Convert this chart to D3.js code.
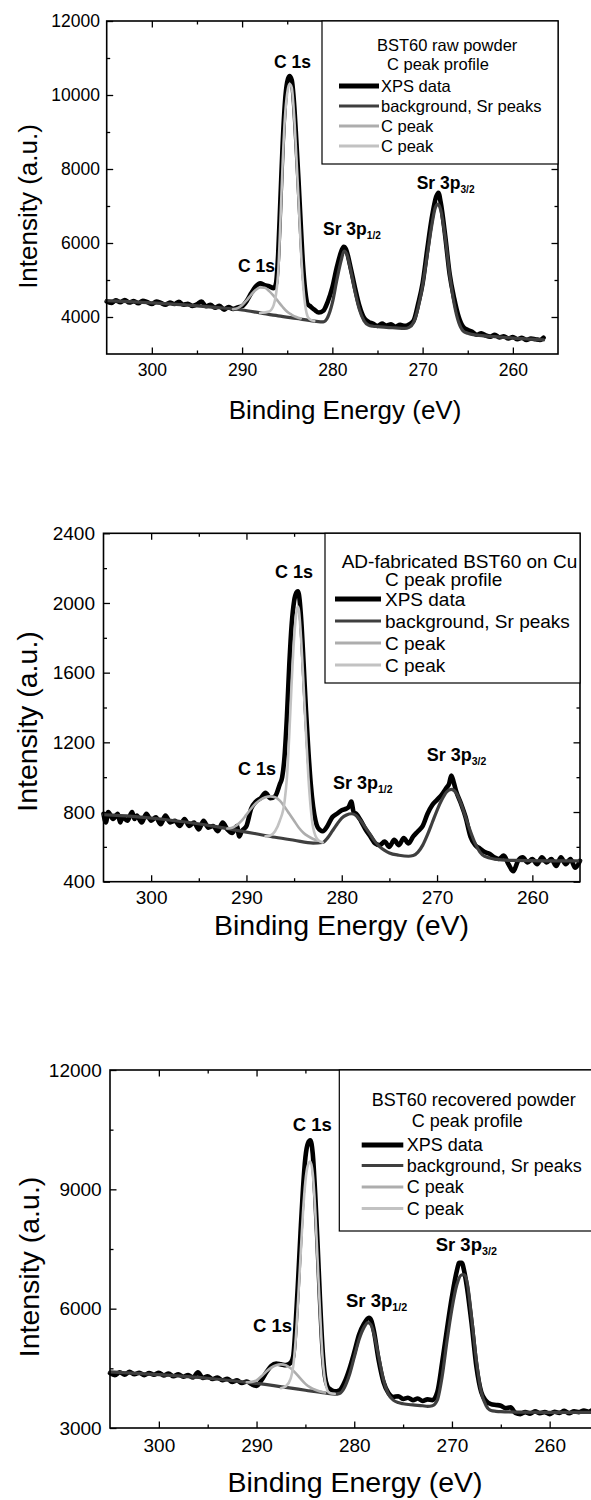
<!DOCTYPE html>
<html><head><meta charset="utf-8">
<script src="https://cdn.jsdelivr.net/npm/d3@7"></script>
<style>body{margin:0;background:#fff} svg{display:block} text{font-family:"Liberation Sans",Arial,Helvetica,sans-serif;fill:#000}</style>
</head><body><svg id="c" width="591" height="1500"></svg>
<script>
// ---------------- shared axis values ----------------
const energyDomain = [305, 255];
const xMajorTicks = [300, 290, 280, 270, 260];
const xMinorTicks = [295, 285, 275, 265];
const xTitle = "Binding Energy (eV)";
const yTitle = "Intensity (a.u.)";
const legendEntries = ["XPS data", "background, Sr peaks", "C peak", "C peak"];

// ---------------- panel 1 : BST60 raw powder ----------------
const rawYMajor = [4000, 6000, 8000, 10000, 12000];
const rawYMinor = [5000, 7000, 9000, 11000];
const rawTitle = ["BST60 raw powder", "C peak profile"];
const rawXps = [
[305.0,4420],[304.5,4380],[304.0,4450],[303.5,4400],[303.0,4460],[302.5,4390],[302.0,4430],[301.5,4370],[301.0,4440],[300.5,4400],
[300.0,4350],[299.5,4420],[299.0,4380],[298.5,4330],[298.0,4390],[297.5,4350],[297.0,4410],[296.5,4330],[296.0,4360],[295.5,4300],
[295.0,4340],[294.5,4420],[294.0,4290],[293.5,4330],[293.0,4250],[292.5,4300],[292.0,4200],[291.5,4270],[291.0,4220],[290.5,4260],
[290.0,4290],[289.5,4430],[289.0,4640],[288.5,4820],[288.0,4910],[287.5,4860],[287.0,4830],[286.5,4780],[286.25,4900],[286.0,5700],
[285.75,7200],[285.5,8700],[285.25,9800],[285.0,10350],[284.75,10510],[284.5,10400],[284.25,9800],[284.0,8800],[283.75,7700],[283.5,6500],
[283.25,5400],[283.0,4700],[282.75,4350],[282.5,4300],[282.0,4200],[281.5,4120],[281.0,4170],[280.5,4420],[280.0,4800],[279.5,5350],[279.0,5780],
[278.75,5900],[278.5,5840],[278.0,5360],[277.5,4800],[277.0,4300],[276.5,3980],[276.0,3870],[275.5,3820],[275.0,3760],[274.5,3820],
[274.0,3770],[273.5,3800],[273.0,3740],[272.5,3790],[272.0,3760],[271.5,3800],[271.0,3900],[270.5,4350],[270.0,4910],[269.5,5800],
[269.0,6650],[268.5,7250],[268.25,7360],[268.0,7100],[267.5,6200],[267.0,5150],[266.5,4500],[266.0,4000],[265.5,3730],[265.0,3650],
[264.5,3600],[264.0,3520],[263.5,3560],[263.0,3500],[262.5,3470],[262.0,3520],[261.5,3450],[261.0,3480],[260.5,3420],[260.0,3460],
[259.5,3400],[259.0,3440],[258.5,3380],[258.0,3420],[257.5,3400],[257.0,3380],[256.6,3440]
];
const rawBgSr = [
[305,4440],[302,4410],[299,4370],[296,4320],[293,4260],[290,4190],[288,4110],[286,4030],[284,3960],[282,3890],[281,3870],
[280.5,4000],[280,4380],[279.5,5000],[279,5550],[278.7,5780],[278.4,5700],[278,5300],[277.5,4700],[277,4200],[276.5,3900],
[276,3780],[275.5,3750],[275,3740],[274,3720],[273,3705],[272,3690],[271.5,3720],[271,3850],[270.5,4250],[270,4850],
[269.5,5650],[269,6450],[268.6,6950],[268.3,7050],[268,6900],[267.5,6150],[267,5150],[266.5,4350],[266,3850],[265.5,3620],
[265,3560],[264,3510],[262,3470],[260,3430],[258,3400],[256.6,3380]
];
const rawCPeakA = [
[291,4210],[290.5,4240],[290,4320],[289.5,4450],[289,4600],[288.5,4730],[288,4800],[287.5,4790],[287,4700],[286.5,4570],
[286,4420],[285.5,4270],[285,4140],[284.5,4060],[284,4000],[283.5,3960]
];
const rawCPeakB = [
[288,4110],[287,4150],[286.5,4320],[286.25,4600],[286,5200],[285.75,6600],[285.5,8200],[285.25,9400],[285,10050],[284.75,10300],
[284.5,10200],[284.25,9500],[284,8400],[283.75,7200],[283.5,5900],[283.25,4900],[283,4300],[282.75,4020],[282.5,3940],[282,3890]
];

// ---------------- panel 2 : AD-fabricated BST60 on Cu ----------------
const adYMajor = [400, 800, 1200, 1600, 2000, 2400];
const adYMinor = [600, 1000, 1400, 1800, 2200];
const adTitle = ["AD-fabricated BST60 on Cu", "C peak profile"];
const adXps = [
[305,790],[304.75,740],[304.5,800],[304,760],[303.5,790],[303.25,740],[303,770],[302.5,750],[302,800],[301.75,760],
[301.5,780],[301,740],[300.5,790],[300,750],[299.5,770],[299,730],[298.5,780],[298,740],[297.5,750],[297,720],
[296.5,760],[296,720],[295.5,740],[295,700],[294.5,750],[294,710],[293.5,720],[293,690],[292.5,740],[292,700],
[291.5,680],[291,720],[290.75,660],[290.5,690],[290,720],[289.5,820],[289,860],[288.5,880],[288,910],[287.5,880],
[287,890],[286.5,960],[286.25,1000],[286,1120],[285.75,1350],[285.5,1650],[285.25,1880],[285,2010],[284.75,2060],[284.6,2067],
[284.5,2050],[284.25,1900],[284,1650],[283.75,1380],[283.5,1150],[283.25,960],[283,830],[282.75,750],[282.5,710],[282,690],
[281.5,720],[281,770],[280.5,790],[280,810],[279.5,820],[279.25,830],[279,860],[278.75,800],[278.5,790],[278,750],
[277.5,700],[277,660],[276.5,620],[276,610],[275.5,630],[275,600],[274.5,640],[274,610],[273.5,650],[273,620],
[272.5,660],[272,690],[271.5,720],[271,790],[270.5,840],[270,870],[269.5,900],[269,940],[268.75,960],[268.5,1010],
[268.25,970],[268,920],[267.5,850],[267,770],[266.5,660],[266,610],[265.5,590],[265,570],[264.5,560],[264,540],
[263.5,530],[263,550],[262.5,500],[262,460],[261.5,520],[261,540],[260.5,510],[260,530],[259.5,500],[259,540],
[258.5,510],[258,530],[257.5,490],[257,540],[256.5,500],[256,530],[255.5,480],[255,520]
];
const adBgSr = [
[305,785],[302,775],[299,760],[296,740],[293,715],[291,695],[289,675],[287,655],[285,638],[283,622],[282,625],
[281.5,650],[281,690],[280.5,730],[280,765],[279.5,783],[279,790],[278.5,780],[278,750],[277.5,710],[277,670],
[276.5,630],[276,600],[275.5,580],[275,565],[274,552],[273,546],[272.5,550],[272,570],[271.5,610],[271,670],
[270.5,740],[270,810],[269.5,870],[269,915],[268.5,930],[268,910],[267.5,850],[267,770],[266.5,690],[266,620],
[265.5,570],[265,545],[264,530],[262,522],[258,520],[255,520]
];
const adCPeakA = [
[292,705],[291.5,710],[291,725],[290.5,750],[290,785],[289.5,820],[289,850],[288.5,872],[288,885],[287.5,890],
[287,885],[286.5,865],[286,830],[285.5,790],[285,750],[284.5,710],[284,680],[283.5,660],[283,645],[282.5,635]
];
const adCPeakB = [
[288,660],[287.5,665],[287,690],[286.5,750],[286,860],[285.75,1000],[285.5,1250],[285.25,1550],[285,1800],[284.75,1950],
[284.6,1980],[284.5,1960],[284.25,1780],[284,1520],[283.75,1250],[283.5,1000],[283.25,820],[283,710],[282.5,640],[282,625]
];

// ---------------- panel 3 : BST60 recovered powder ----------------
const recYMajor = [3000, 6000, 9000, 12000];
const recYMinor = [4500, 7500, 10500];
const recTitle = ["BST60 recovered powder", "C peak profile"];
const recXps = [
[305,4380],[304.5,4330],[304,4400],[303.5,4340],[303,4410],[302.5,4350],[302,4390],[301.5,4330],[301,4380],[300.5,4340],
[300,4390],[299.5,4320],[299,4370],[298.5,4300],[298,4350],[297.5,4290],[297,4330],[296.5,4270],[296,4400],[295.5,4260],
[295,4300],[294.5,4230],[294,4270],[293.5,4200],[293,4240],[292.5,4160],[292,4200],[291.5,4130],[291,4170],[290.5,4100],
[290,4060],[289.5,4200],[289,4400],[288.5,4560],[288,4620],[287.5,4600],[287,4580],[286.5,4640],[286.25,4800],[286,5600],
[285.75,6700],[285.5,7900],[285.25,9000],[285,9800],[284.75,10150],[284.5,10230],[284.25,9900],[284,8900],[283.75,7600],[283.5,6200],
[283.25,5000],[283,4300],[282.75,4050],[282.5,3980],[282,3920],[281.5,3950],[281,4150],[280.5,4480],[280,4900],[279.5,5350],
[279,5620],[278.5,5770],[278.25,5700],[278,5450],[277.5,4700],[277,4150],[276.5,3880],[276,3780],[275.5,3800],[275,3730],
[274.5,3760],[274,3700],[273.5,3740],[273,3680],[272.5,3720],[272,3700],[271.5,3900],[271,4650],[270.5,5500],[270,6300],
[269.5,6950],[269.25,7150],[269,7150],[268.75,6950],[268.5,6600],[268,5650],[267.5,4550],[267,3900],[266.5,3680],[266,3600],
[265.5,3580],[265,3560],[264.5,3500],[264,3520],[263.5,3380],[263,3350],[262.5,3400],[262,3360],[261.5,3420],[261,3370],
[260.5,3400],[260,3350],[259.5,3410],[259,3380],[258.5,3430],[258,3370],[257.5,3420],[257,3400],[256.5,3440],[256,3410],
[255.5,3460],[255,3450]
];
const recBgSr = [
[305,4410],[300,4340],[295,4250],[290,4120],[287,4020],[285,3950],[283,3880],[282,3850],[281.5,3870],[281,4020],
[280.5,4330],[280,4780],[279.5,5230],[279,5530],[278.6,5650],[278.3,5600],[278,5380],[277.5,4800],[277,4200],[276.5,3850],
[276,3700],[275.5,3640],[275,3610],[274,3580],[273,3560],[272.5,3545],[272,3560],[271.5,3700],[271,4300],[270.5,5200],
[270,6000],[269.5,6600],[269,6850],[268.7,6850],[268.4,6600],[268,5800],[267.5,4700],[267,3900],[266.5,3560],[266,3440],
[265.5,3420],[265,3410],[263,3400],[260,3395],[255,3395]
];
const recCPeakA = [
[291,4150],[290.5,4160],[290,4200],[289.5,4300],[289,4420],[288.5,4520],[288,4580],[287.5,4600],[287,4580],[286.5,4500],
[286,4380],[285.5,4240],[285,4110],[284.5,4020],[284,3960],[283.5,3920],[283,3890]
];
const recCPeakB = [
[287.5,4000],[287,4050],[286.5,4250],[286.25,4550],[286,5200],[285.75,6200],[285.5,7300],[285.25,8400],[285,9200],[284.75,9600],
[284.5,9700],[284.25,9400],[284,8500],[283.75,7200],[283.5,5900],[283.25,4800],[283,4200],[282.75,3950],[282.5,3880],[282,3860]
];

// ---------------- styles ----------------
const seriesStyles = [
  {color: "#000000", width: 4.6},
  {color: "#3f3f3f", width: 3.2},
  {color: "#adadad", width: 2.6},
  {color: "#c2c2c2", width: 2.6}
];

const panels = [
  { series: [rawXps, rawBgSr, rawCPeakA, rawCPeakB], yDomain: [3000, 12000], yMajor: rawYMajor, yMinor: rawYMinor,
    box: {l: 106.7, r: 558, t: 21, b: 354}, tickFs: 17.5, titleFs: 26, xPad: 9.6, yPad: 6.7,
    xTitleX: 345, xTitleY: 419, yTitleX: 37, yTitleY: 206.5,
    annFs: 17.5,
    ann: [{t: "C 1s", x: 274, y: 68}, {t: "C 1s", x: 238, y: 272}, {t: "Sr 3p", s: "1/2", x: 323, y: 235}, {t: "Sr 3p", s: "3/2", x: 416.7, y: 189}],
    leg: {l: 322, r: 558, t: 21, b: 164, fs: 16.5, title: rawTitle, titleX: 377, subX: 387, rows: [45, 64, 86, 106, 126, 146], lx0: 339, lx1: 379, tx: 381} },
  { series: [adXps, adBgSr, adCPeakA, adCPeakB], yDomain: [400, 2400], yMajor: adYMajor, yMinor: adYMinor,
    box: {l: 103.5, r: 580, t: 533.3, b: 881.7}, tickFs: 19, titleFs: 28.5, xPad: 8.5, yPad: 8.5,
    xTitleX: 341.5, xTitleY: 935, yTitleX: 37, yTitleY: 721.5,
    annFs: 18,
    ann: [{t: "C 1s", x: 275, y: 578}, {t: "C 1s", x: 238, y: 775}, {t: "Sr 3p", s: "1/2", x: 333, y: 789}, {t: "Sr 3p", s: "3/2", x: 426.7, y: 761}],
    leg: {l: 325, r: 580, t: 533.3, b: 683, fs: 19, title: adTitle, titleX: 341.7, subX: 385, rows: [561, 579, 599, 621, 643, 665], lx0: 335, lx1: 381, tx: 385} },
  { series: [recXps, recBgSr, recCPeakA, recCPeakB], yDomain: [3000, 12000], yMajor: recYMajor, yMinor: recYMinor,
    box: {l: 110, r: 598.5, t: 1070, b: 1428}, tickFs: 19, titleFs: 28.5, xPad: 10.5, yPad: 8.3,
    xTitleX: 355, xTitleY: 1492, yTitleX: 39, yTitleY: 1267,
    annFs: 18.5,
    ann: [{t: "C 1s", x: 292.7, y: 1131}, {t: "C 1s", x: 253, y: 1332}, {t: "Sr 3p", s: "1/2", x: 346, y: 1307}, {t: "Sr 3p", s: "3/2", x: 435.7, y: 1251}],
    leg: {l: 339.3, r: 598.5, t: 1070, b: 1231, fs: 18, title: recTitle, titleX: 371.7, subX: 411.7, rows: [1100, 1121, 1145, 1165.5, 1187, 1208.5], lx0: 361.7, lx1: 403.3, tx: 406.7} }
];

const svg = d3.select("#c");
svg.append("rect").attr("width", 591).attr("height", 1500).attr("fill", "#fff");

panels.forEach(p => {
  const g = svg.append("g");
  const x = d3.scaleLinear().domain(energyDomain).range([p.box.l, p.box.r]);
  const y = d3.scaleLinear().domain(p.yDomain).range([p.box.b, p.box.t]);
  const line = d3.line().x(d => x(d[0])).y(d => y(d[1])).curve(d3.curveMonotoneX);

  p.series.forEach((s, i) => {
    g.append("path").datum(s).attr("d", line).attr("fill", "none")
      .attr("stroke", seriesStyles[i].color).attr("stroke-width", seriesStyles[i].width)
      .attr("stroke-linejoin", "round").attr("stroke-linecap", "round");
  });

  // axes
  const styleAxis = sel => { sel.select(".domain").remove(); sel.selectAll("line").attr("stroke", "#000").attr("stroke-width", 1.3); sel.selectAll("text").attr("font-size", p.tickFs).attr("font-family", "Liberation Sans, Arial, sans-serif").attr("fill", "#000"); };
  const bottomY = y(p.yDomain[0]), topY = y(p.yDomain[1]);
  g.append("g").attr("transform", `translate(0,${bottomY})`)
    .call(d3.axisBottom(x).tickValues(xMajorTicks).tickSize(-6.5).tickPadding(p.xPad).tickFormat(d3.format("d"))).call(styleAxis);
  g.append("g").attr("transform", `translate(0,${bottomY})`)
    .call(d3.axisBottom(x).tickValues(xMinorTicks).tickSize(-3.5).tickFormat("")).call(styleAxis);
  g.append("g").attr("transform", `translate(0,${topY})`)
    .call(d3.axisTop(x).tickValues(xMajorTicks).tickSize(-6.5).tickFormat("")).call(styleAxis);
  g.append("g").attr("transform", `translate(0,${topY})`)
    .call(d3.axisTop(x).tickValues(xMinorTicks).tickSize(-3.5).tickFormat("")).call(styleAxis);
  g.append("g").attr("transform", `translate(${p.box.l},0)`)
    .call(d3.axisLeft(y).tickValues(p.yMajor).tickSize(-6.5).tickPadding(p.yPad).tickFormat(d3.format("d"))).call(styleAxis);
  g.append("g").attr("transform", `translate(${p.box.l},0)`)
    .call(d3.axisLeft(y).tickValues(p.yMinor).tickSize(-3.5).tickFormat("")).call(styleAxis);
  g.append("g").attr("transform", `translate(${p.box.r},0)`)
    .call(d3.axisRight(y).tickValues(p.yMajor).tickSize(-6.5).tickFormat("")).call(styleAxis);
  g.append("g").attr("transform", `translate(${p.box.r},0)`)
    .call(d3.axisRight(y).tickValues(p.yMinor).tickSize(-3.5).tickFormat("")).call(styleAxis);

  g.append("rect").attr("x", p.box.l).attr("y", topY).attr("width", p.box.r - p.box.l).attr("height", bottomY - topY)
    .attr("fill", "none").attr("stroke", "#000").attr("stroke-width", 1.6);

  // axis titles
  g.append("text").attr("x", p.xTitleX).attr("y", p.xTitleY).attr("text-anchor", "middle").attr("font-size", p.titleFs).text(xTitle);
  g.append("text").attr("transform", `translate(${p.yTitleX},${p.yTitleY}) rotate(-90)`).attr("text-anchor", "middle").attr("font-size", p.titleFs).text(yTitle);

  // annotations
  p.ann.forEach(a => {
    const t = g.append("text").attr("x", a.x).attr("y", a.y).attr("font-size", p.annFs).attr("font-weight", "bold");
    t.append("tspan").text(a.t);
    if (a.s) t.append("tspan").attr("font-size", p.annFs * 0.58).attr("dy", 4).text(a.s);
  });

  // legend
  const L = p.leg;
  g.append("rect").attr("x", L.l).attr("y", L.t).attr("width", L.r - L.l).attr("height", L.b - L.t)
    .attr("fill", "#fff").attr("stroke", "#000").attr("stroke-width", 1.2);
  g.append("text").attr("x", L.titleX).attr("y", L.rows[0] + L.fs * 0.36).attr("font-size", L.fs).text(L.title[0]);
  g.append("text").attr("x", L.subX).attr("y", L.rows[1] + L.fs * 0.36).attr("font-size", L.fs).text(L.title[1]);
  legendEntries.forEach((name, i) => {
    const cy = L.rows[i + 2];
    g.append("line").attr("x1", L.lx0).attr("x2", L.lx1).attr("y1", cy).attr("y2", cy)
      .attr("stroke", seriesStyles[i].color).attr("stroke-width", i === 0 ? 4.8 : 3);
    g.append("text").attr("x", L.tx).attr("y", cy + L.fs * 0.36).attr("font-size", L.fs).text(name);
  });
});
</script></body></html>
